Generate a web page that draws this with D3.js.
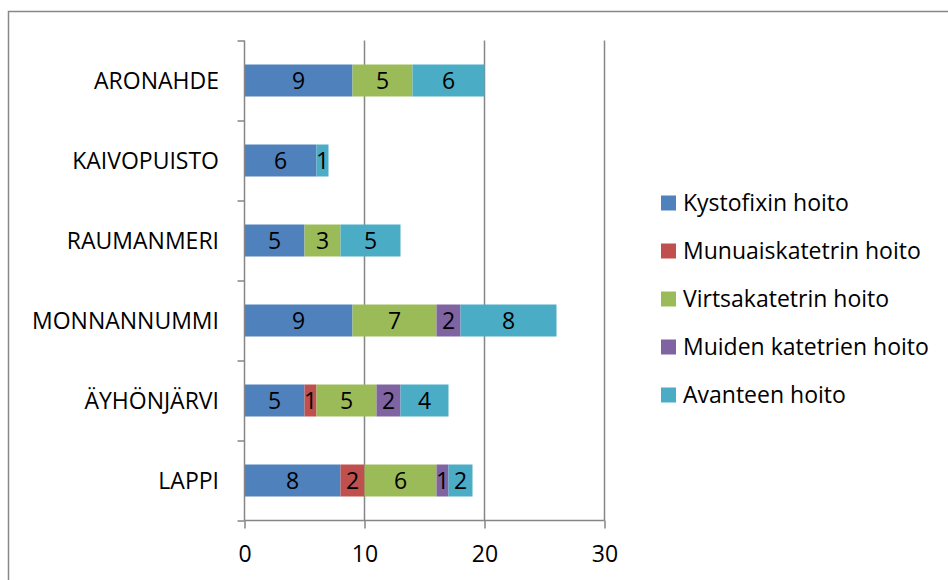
<!DOCTYPE html>
<html>
<head>
<meta charset="utf-8">
<script src="https://cdn.jsdelivr.net/npm/d3@7"></script>
<style>
  body { margin: 0; background: #fff; }
  text { font-family: "Open Sans", "Liberation Sans", Arial, sans-serif; fill: #000; }
</style>
</head>
<body>
<div id="chart"></div>
<script>
// categories top to bottom
var categories = ["ARONAHDE", "KAIVOPUISTO", "RAUMANMERI", "MONNANNUMMI", "ÄYHÖNJÄRVI", "LAPPI"];
var seriesNames = ["Kystofixin hoito", "Munuaiskatetrin hoito", "Virtsakatetrin hoito", "Muiden katetrien hoito", "Avanteen hoito"];
var colours = ["#4F81BD", "#C0504D", "#9BBB59", "#8064A2", "#4BACC6"];

// one array per series, same order as categories
var kystofixin = [9, 6, 5, 9, 5, 8];
var munuaiskatetrin = [0, 0, 0, 0, 1, 2];
var virtsakatetrin = [5, 0, 3, 7, 5, 6];
var muiden = [0, 0, 0, 2, 2, 1];
var avanteen = [6, 1, 5, 8, 4, 2];
var xTicks = [0, 10, 20, 30];

var w = 948, h = 580,
    fontSize = "23px";

var svg = d3.select("#chart").append("svg")
  .attr("width", w)
  .attr("height", h);

// outer chart border (runs off the picture right and bottom)
svg.append("rect")
  .attr("x", 8.5).attr("y", 11.5)
  .attr("width", 960).attr("height", 600)
  .attr("fill", "none")
  .attr("stroke", "#888")
  .attr("stroke-width", 1.5);

var xScale = d3.scaleLinear().domain([0, 30]).range([244.5, 604.5]);
var yScale = d3.scaleBand().domain(categories).range([40.5, 520.5]).paddingInner(0.6).paddingOuter(0.3);

var table = categories.map(function(c, i){
  return {cat: c, "Kystofixin hoito": kystofixin[i], "Munuaiskatetrin hoito": munuaiskatetrin[i],
          "Virtsakatetrin hoito": virtsakatetrin[i], "Muiden katetrien hoito": muiden[i], "Avanteen hoito": avanteen[i]};
});
var stacked = d3.stack().keys(seriesNames)(table);

// vertical gridlines
svg.append("g").selectAll("line")
  .data(xTicks.slice(1))
  .enter().append("line")
  .attr("x1", function(d){ return xScale(d); })
  .attr("x2", function(d){ return xScale(d); })
  .attr("y1", 40.5).attr("y2", 520.5)
  .attr("stroke", "#868686").attr("stroke-width", 1.5);

// bars
var layers = svg.append("g").selectAll("g")
  .data(stacked)
  .enter().append("g")
  .attr("fill", function(d, i){ return colours[i]; });

layers.selectAll("rect")
  .data(function(d){ return d.filter(function(s){ return s[1] - s[0] > 0; }); })
  .enter().append("rect")
  .attr("x", function(d){ return xScale(d[0]); })
  .attr("width", function(d){ return xScale(d[1]) - xScale(d[0]); })
  .attr("y", function(d){ return yScale(d.data.cat); })
  .attr("height", yScale.bandwidth());

layers.selectAll("text")
  .data(function(d){ return d.filter(function(s){ return s[1] - s[0] > 0; }); })
  .enter().append("text")
  .attr("x", function(d){ return (xScale(d[0]) + xScale(d[1])) / 2; })
  .attr("y", function(d){ return yScale(d.data.cat) + yScale.bandwidth() / 2; })
  .attr("dy", "0.36em")
  .attr("text-anchor", "middle")
  .style("font-size", fontSize)
  .text(function(d){ return d[1] - d[0]; });

// y axis
var yAxis = d3.axisLeft(d3.scaleLinear().domain([0, 6]).range([520.5, 40.5]))
  .ticks(6).tickSize(7).tickFormat("");
var yg = svg.append("g").attr("transform", "translate(244.5,0)").call(yAxis);
yg.selectAll("path,line").attr("stroke", "#868686").attr("stroke-width", 1.5);
yg.select(".domain").attr("d", "M0,40.5V520.5");

svg.append("g").selectAll("text")
  .data(categories)
  .enter().append("text")
  .attr("x", 219)
  .attr("y", function(d){ return yScale(d) + yScale.bandwidth() / 2; })
  .attr("dy", "0.36em")
  .attr("text-anchor", "end")
  .style("font-size", fontSize)
  .text(function(d){ return d; });

// x axis
var xAxis = d3.axisBottom(xScale).tickValues(xTicks).tickSize(8).tickFormat(d3.format("d"));
var xg = svg.append("g").attr("transform", "translate(0,520.5)").call(xAxis);
xg.select(".domain").attr("d", "M244.5,0H604.5").attr("stroke", "#868686").attr("stroke-width", 1.5);
xg.selectAll("line").attr("stroke", "#868686").attr("stroke-width", 1.5);
xg.selectAll("text").attr("y", 33).attr("dy", "0.36em").style("font-size", fontSize)
  .style("font-family", "'Open Sans', 'Liberation Sans', Arial, sans-serif").attr("fill", "#000");

// legend
var legend = svg.append("g").selectAll("g")
  .data(seriesNames)
  .enter().append("g")
  .attr("transform", function(d, i){ return "translate(661," + (203 + i * 48) + ")"; });
legend.append("rect")
  .attr("x", 0).attr("y", -7.5)
  .attr("width", 15).attr("height", 15)
  .attr("fill", function(d, i){ return colours[i]; });
legend.append("text")
  .attr("x", 22).attr("y", 0).attr("dy", "0.36em")
  .style("font-size", fontSize)
  .text(function(d){ return d; });
</script>
</body>
</html>
